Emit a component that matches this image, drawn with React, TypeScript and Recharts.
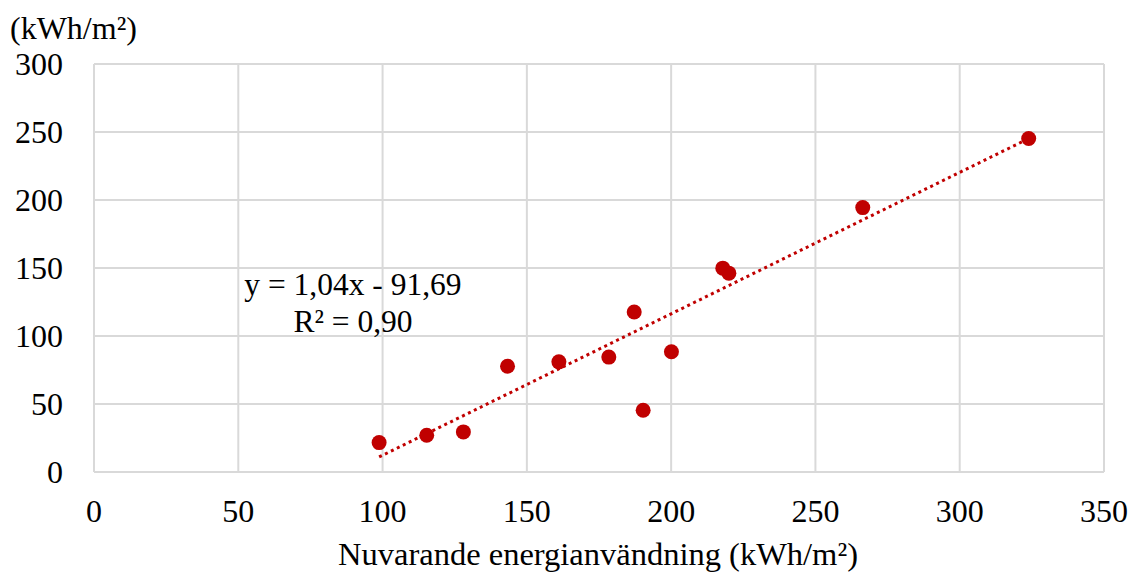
import React from "react";
import {
  ScatterChart,
  Scatter,
  XAxis,
  YAxis,
  CartesianGrid,
  ReferenceLine,
} from "recharts";

const currentUse = [98.8, 115.3, 128.0, 143.3, 161.1, 178.4, 187.2, 190.3, 200.1, 217.9, 220.0, 266.4, 323.9];
const savedUse = [21.6, 27.0, 29.5, 77.8, 81.0, 84.5, 117.6, 45.4, 88.4, 149.9, 146.2, 194.4, 245.2];
const xTicks = [0, 50, 100, 150, 200, 250, 300, 350];
const yTicks = [0, 50, 100, 150, 200, 250, 300];
const trendSlope = 1.04;
const trendIntercept = -91.69;
const trendRange = [98.8, 323.9];

const points = currentUse.map((x, i) => ({ x, y: savedUse[i] }));
const trendSegment = trendRange.map((x) => ({ x, y: trendSlope * x + trendIntercept }));

const FONT = "Liberation Serif, Tinos, DejaVu Serif, Noto Serif, serif";
const RED = "#c00000";
const GRID = "#d9d9d9";

export default function App() {
  return (
    <div style={{ position: "absolute", left: 0, top: 0, width: 1131, height: 572, background: "#fff", fontFamily: FONT }}>
      <ScatterChart
        width={1131}
        height={572}
        margin={{ top: 64, right: 27, bottom: 0, left: 0 }}
        style={{ fontFamily: FONT }}
      >
        <CartesianGrid stroke={GRID} strokeWidth={2} />
        <XAxis
          type="number"
          dataKey="x"
          domain={[0, 350]}
          ticks={xTicks}
          height={100}
          tickSize={0}
          tickMargin={27}
          axisLine={{ stroke: GRID, strokeWidth: 2 }}
          tickLine={false}
          tick={{ fill: "#000", fontSize: 32, fontFamily: FONT }}
        />
        <YAxis
          type="number"
          dataKey="y"
          domain={[0, 300]}
          ticks={yTicks}
          width={94}
          tickSize={0}
          tickMargin={31}
          axisLine={{ stroke: GRID, strokeWidth: 2 }}
          tickLine={false}
          tick={{ fill: "#000", fontSize: 32, fontFamily: FONT }}
        />
        <ReferenceLine
          segment={trendSegment}
          stroke={RED}
          strokeWidth={3}
          strokeDasharray="3 3.6"
          ifOverflow="visible"
        />
        <Scatter data={points} fill={RED} isAnimationActive={false} shape={(p: any) => (
          <circle cx={p.cx} cy={p.cy} r={7.5} fill={RED} />
        )} />
      </ScatterChart>
      <svg
        width={1131}
        height={572}
        style={{ position: "absolute", left: 0, top: 0, pointerEvents: "none", fontFamily: FONT }}
      >
        <text x={10} y={39} fontSize={32} fill="#000">(kWh/m²)</text>
        <text x={598} y={565} fontSize={32.5} fill="#000" textAnchor="middle">
          Nuvarande energianvändning (kWh/m²)
        </text>
        <text x={353} y={295} fontSize={31.5} fill="#000" textAnchor="middle">
          y = 1,04x - 91,69
        </text>
        <text x={353} y={332} fontSize={31.5} fill="#000" textAnchor="middle">
          R² = 0,90
        </text>
      </svg>
    </div>
  );
}
